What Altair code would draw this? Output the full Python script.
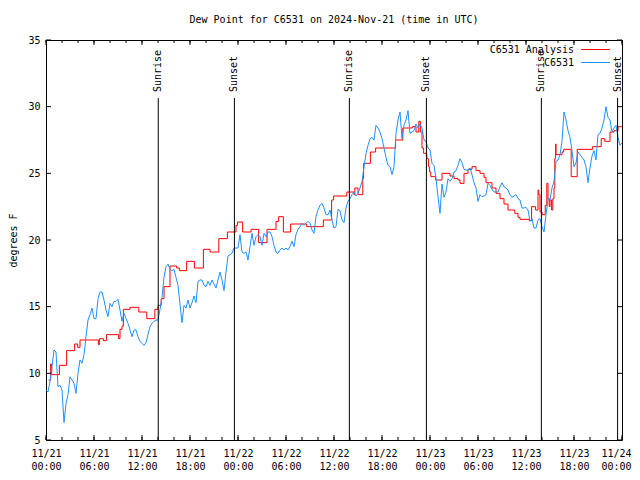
import json
import altair as alt
import pandas as pd

TITLE = "Dew Point for C6531 on 2024-Nov-21 (time in UTC)"
Y_TITLE = "degrees F"
SERIES = ["C6531 Analysis", "C6531"]
COLORS = ["#ff0000", "#1e90ff"]
FONT = "DejaVu Sans Mono"

# Observed dew point (F), 15-minute readings; each block starts at the given hour after 11/21 00:00 UTC
obs_h00 = [8.75, 8.6, 9.4, 10.5, 11.75, 11.6, 9.0, 9.1, 8.75, 6.3, 7.75, 8.4,
           9.75, 9.5, 9.25, 8.5, 10.0, 11.0, 10.75, 11.4, 12.75, 14.0, 14.4, 14.9,
           14.1, 14.1, 15.6, 16.1, 16.1, 15.5, 14.75, 14.25, 15.25, 15.0, 15.4, 15.4,
           15.55, 14.75, 13.9, 14.5, 14.1, 13.75, 13.25, 12.75, 13.25, 13.25, 12.75, 12.4]
obs_h12 = [12.25, 12.1, 12.3, 12.9, 13.5, 13.75, 13.9, 14.0, 14.0, 14.8, 15.7, 17.2,
           18.0, 18.2, 17.8, 17.7, 17.8, 17.2, 16.6, 15.2, 13.8, 15.1, 14.9, 15.5,
           14.9, 15.3, 15.8, 15.3, 16.9, 17.0, 17.0, 16.6, 16.5, 16.9, 16.6, 17.0,
           16.7, 16.4, 17.0, 17.6, 17.0, 16.2, 17.6, 18.8, 18.9, 19.0, 19.4, 19.4]
obs_h24 = [19.4, 20.4, 19.1, 19.0, 19.1, 18.5, 19.5, 20.5, 19.6, 20.25, 20.4, 20.25,
           19.6, 20.5, 20.25, 20.6, 20.6, 20.25, 19.6, 19.1, 19.0, 19.25, 19.4, 19.25,
           19.4, 19.25, 19.5, 19.9, 19.5, 20.4, 20.8, 21.0, 21.25, 21.1, 21.25, 21.4,
           21.25, 20.75, 20.5, 21.75, 22.25, 22.6, 22.75, 22.4, 21.9, 21.9, 22.25, 21.5]
obs_h36 = [20.9, 21.0, 22.3, 22.2, 21.5, 21.3, 22.4, 22.9, 23.1, 23.4, 23.6, 23.3,
           23.5, 23.9, 24.4, 25.5, 26.5, 27.1, 27.6, 27.7, 27.5, 28.6, 28.4, 28.1,
           27.6, 26.9, 26.2, 25.6, 25.5, 24.9, 25.5, 28.0, 29.0, 29.6, 27.6, 28.6,
           29.0, 29.7, 28.0, 28.1, 28.2, 28.7, 28.4, 28.7, 28.4, 27.5, 27.4, 26.9]
obs_h48 = [26.75, 25.75, 25.6, 24.6, 23.25, 22.0, 24.2, 23.2, 23.6, 24.6, 24.4, 24.6,
           25.1, 25.2, 25.6, 26.1, 25.8, 25.3, 25.25, 25.25, 25.4, 24.9, 24.3, 23.9,
           22.9, 23.4, 23.25, 23.3, 23.4, 24.25, 24.1, 23.8, 23.6, 23.6, 23.6, 24.0,
           24.3, 24.0, 23.9, 23.75, 23.4, 23.2, 23.3, 23.4, 23.1, 23.0, 22.4, 22.4]
obs_h60 = [22.45, 22.25, 21.4, 21.6, 20.9, 20.9, 21.5, 21.6, 21.0, 20.6, 21.9, 23.1,
           23.0, 23.9, 24.4, 25.9, 26.0, 26.4, 27.4, 29.6, 29.0, 28.2, 27.7, 26.7,
           25.5, 25.8, 26.6, 26.4, 26.2, 26.0, 25.5, 24.3, 25.4, 26.3, 26.7, 26.0,
           27.9, 28.0, 28.4, 29.0, 30.0, 29.2, 29.0, 28.1, 28.4, 28.6, 27.7, 27.1, 27.3]
obs_blocks = [(0, obs_h00), (12, obs_h12), (24, obs_h24), (36, obs_h36), (48, obs_h48), (60, obs_h60)]

# Analysis (step changes): hour after 11/21 00:00 UTC, value (F)
ana_hours = [0.33, 0.58, 0.71, 1.67, 2.58, 3.58, 3.96, 4.25, 6.54, 6.67, 7.17, 7.58,
             9.08, 9.25, 9.5, 9.67, 10.5, 11.6, 12.6, 13.6, 14.0, 14.4, 14.75, 15.5,
             16.33, 16.67, 17.58, 18.55, 19.67, 20.5, 21.6, 22.67, 23.75, 23.95, 24.58, 25.63,
             26.58, 27.63, 28.75, 29.08, 29.67, 30.58, 32.58, 34.67, 35.7, 35.95, 37.6, 38.5,
             38.6, 39.0, 39.6, 39.7, 40.55, 41.2, 43.7, 44.6, 45.8, 46.25, 46.6, 46.8,
             47.0, 47.2, 47.6, 47.8, 47.95, 48.1, 48.7, 49.5, 50.5, 51.0, 51.5, 51.75,
             52.25, 52.75, 53.25, 53.75, 54.25, 54.75, 55.0, 55.75, 56.25, 56.75, 57.25, 57.75,
             58.6, 59.0, 59.25, 60.4, 60.7, 61.2, 61.5, 61.6, 61.75, 62.0, 62.4, 62.6,
             62.75, 62.9, 63.0, 63.2, 63.35, 63.5, 63.6, 63.7, 63.75, 64.5, 64.7, 65.65,
             66.4, 68.3, 69.4, 69.85, 70.5, 71.0, 71.5, 72.0]
ana_values = [9.5, 10.7, 9.9, 10.6, 11.7, 12.2, 11.95, 12.5, 12.15, 12.6, 12.45, 12.9,
              12.6, 13.3, 13.55, 14.8, 14.95, 14.6, 14.1, 14.8, 15.1, 15.6, 16.5, 18.05,
              17.9, 17.7, 18.4, 17.9, 19.3, 19.1, 20.1, 20.6, 21.1, 21.35, 20.6, 20.8,
              19.8, 20.8, 21.4, 21.75, 20.6, 21.2, 21.0, 21.5, 23.0, 23.3, 23.6, 23.4,
              23.9, 23.4, 24.6, 25.75, 26.6, 26.9, 27.5, 28.4, 28.5, 28.1, 28.9, 28.1,
              26.9, 26.5, 26.1, 25.5, 25.1, 24.75, 24.5, 25.0, 24.8, 24.6, 24.5, 24.25,
              25.0, 25.3, 25.5, 25.2, 25.0, 24.7, 24.3, 23.9, 23.5, 23.1, 22.7, 22.25,
              22.0, 21.7, 21.55, 21.45, 22.5, 22.25, 23.75, 23.4, 22.1, 21.9, 22.6, 24.25,
              23.1, 22.5, 23.0, 22.25, 23.1, 23.9, 26.1, 27.2, 26.4, 26.6, 26.8, 24.75,
              26.8, 27.0, 27.6, 27.4, 28.1, 28.2, 28.5, 28.5]

sun_hours = [14.03, 23.55, 37.92, 47.55, 61.92, 71.45]
sun_labels = ["Sunrise", "Sunset", "Sunrise", "Sunset", "Sunrise", "Sunset"]

x_tick_dates = ["11/21", "11/21", "11/21", "11/21", "11/22", "11/22", "11/22",
                "11/22", "11/23", "11/23", "11/23", "11/23", "11/24"]
x_tick_times = ["00:00", "06:00", "12:00", "18:00", "00:00", "06:00", "12:00",
                "18:00", "00:00", "06:00", "12:00", "18:00", "00:00"]
y_ticks = [5, 10, 15, 20, 25, 30, 35]

W, H = 576, 400

rows = []
for start, vals in obs_blocks:
    for i, v in enumerate(vals):
        rows.append({"hour": start + 0.25 * i, "value": v})
obs_df = pd.DataFrame(rows)
ana_df = pd.DataFrame({"hour": ana_hours, "value": ana_values})
sun_df = pd.DataFrame({"hour": sun_hours, "label": sun_labels})

x_major = [6 * i for i in range(len(x_tick_dates))]
x_minor = [2 * i for i in range(3 * (len(x_tick_dates) - 1) + 1)]
major_df = pd.DataFrame({"hour": x_major})
minor_df = pd.DataFrame({"hour": x_minor})
yt_df = pd.DataFrame({"value": y_ticks})

x_scale = alt.Scale(domain=[0, 72], nice=False, zero=False)
y_scale = alt.Scale(domain=[5, 35], nice=False, zero=False)

label_pairs = [[d, t] for d, t in zip(x_tick_dates, x_tick_times)]
label_expr = json.dumps(label_pairs) + "[round(datum.value / 6)]"

x_axis = alt.Axis(values=x_major, labelExpr=label_expr, ticks=False, domain=False,
                  grid=False, title="", labelFont=FONT, labelFontSize=10,
                  labelColor="black", labelPadding=8, labelLineHeight=13,
                  labelFlush=False, labelOverlap=False, labelAlign="center",
                  labelBaseline="top",
                  labelOffset={"condition": {"test": f"datum.value >= {x_major[-1]}", "value": -6},
                               "value": 0})
y_axis = alt.Axis(values=y_ticks, ticks=False, domain=False, grid=False,
                  title=Y_TITLE, titleFont=FONT, titleFontSize=10,
                  titleFontWeight="normal", titleColor="black", titleAngle=270,
                  titleX=-33, titleY=H / 2, titleAlign="center", titleBaseline="middle",
                  labelFont=FONT, labelFontSize=10, labelColor="black", labelPadding=6)

X = lambda: alt.X("hour:Q", scale=x_scale, axis=x_axis)
Y = lambda: alt.Y("value:Q", scale=y_scale, axis=y_axis)

analysis = alt.Chart(ana_df).mark_line(
    interpolate="step-after", color=COLORS[0], strokeWidth=1
).encode(x=X(), y=Y())
observed = alt.Chart(obs_df).mark_line(color=COLORS[1], strokeWidth=1).encode(x=X(), y=Y())

sun_lines = alt.Chart(sun_df).mark_rule(color="black", strokeWidth=1).encode(
    x=X(), y=alt.value(58), y2=alt.value(H)
)
sun_text = alt.Chart(sun_df).mark_text(
    angle=270, align="left", baseline="middle", font=FONT, fontSize=10, color="black"
).encode(x=X(), y=alt.value(52), text="label:N")

tick_style = dict(color="black", strokeWidth=1)
minor_bot = alt.Chart(minor_df).mark_rule(**tick_style).encode(x=X(), y=alt.value(H), y2=alt.value(H - 3))
minor_top = alt.Chart(minor_df).mark_rule(**tick_style).encode(x=X(), y=alt.value(0), y2=alt.value(3))
major_bot = alt.Chart(major_df).mark_rule(**tick_style).encode(x=X(), y=alt.value(H), y2=alt.value(H - 5))
major_top = alt.Chart(major_df).mark_rule(**tick_style).encode(x=X(), y=alt.value(0), y2=alt.value(5))
ytick_l = alt.Chart(yt_df).mark_rule(**tick_style).encode(y=Y(), x=alt.value(0), x2=alt.value(5))
ytick_r = alt.Chart(yt_df).mark_rule(**tick_style).encode(y=Y(), x=alt.value(W), x2=alt.value(W - 5))

leg_layers = []
for i, (name, col) in enumerate(zip(SERIES, COLORS)):
    ly = 10 + 13 * i
    leg_layers.append(
        alt.Chart(pd.DataFrame({"name": [name]})).mark_text(
            align="right", baseline="middle", font=FONT, fontSize=10, color="black"
        ).encode(x=alt.value(528), y=alt.value(ly), text="name:N")
    )
    leg_layers.append(
        alt.Chart(pd.DataFrame({"name": [name]})).mark_rule(color=col, strokeWidth=1).encode(
            x=alt.value(535), x2=alt.value(564), y=alt.value(ly - 0.5)
        )
    )

chart = alt.layer(
    analysis, observed, sun_lines, sun_text,
    minor_bot, minor_top, major_bot, major_top, ytick_l, ytick_r,
    *leg_layers
).properties(
    width=W, height=H,
    title=alt.TitleParams(TITLE, font=FONT, fontSize=10, fontWeight="normal",
                          color="black", anchor="middle", frame="group",
                          baseline="alphabetic", offset=2),
    autosize=alt.AutoSizeParams(type="none"),
    padding={"left": 38, "top": 32, "right": 10, "bottom": 30},
    background="white",
).configure_view(stroke="black", strokeWidth=1)

chart.save("out.html", embed_options={"renderer": "svg", "actions": False})
